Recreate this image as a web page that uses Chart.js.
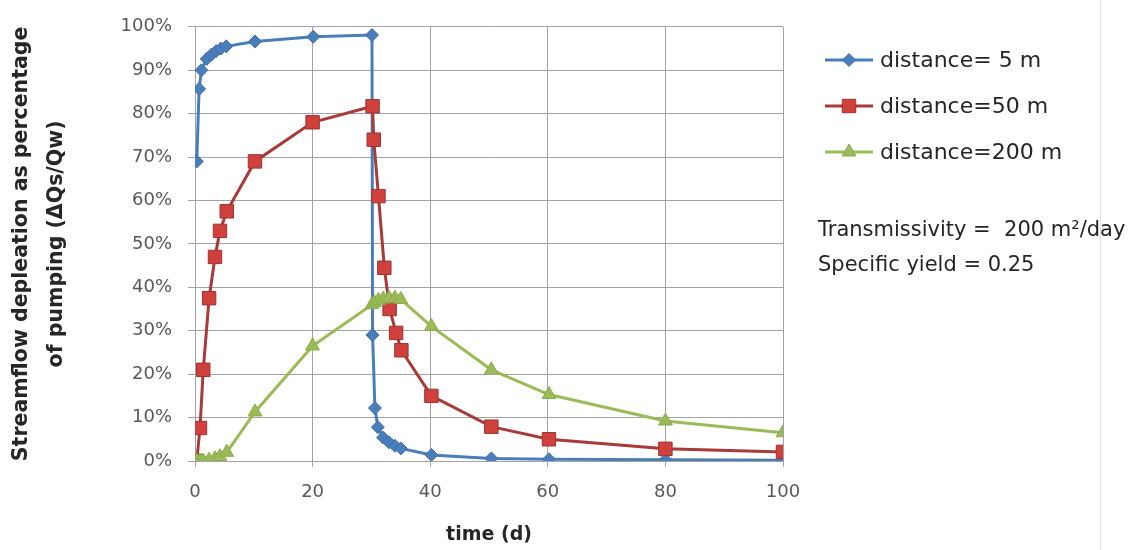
<!DOCTYPE html>
<html><head><meta charset="utf-8">
<script src="https://cdn.jsdelivr.net/npm/chart.js@4.4.1/dist/chart.umd.min.js"></script>
<style>html,body{margin:0;padding:0;background:#fff;} #wrap{width:1140px;height:550px;position:relative;}</style>
</head><body><div id="wrap"><canvas id="c"></canvas></div>
<script>
// ---- data ----
const seriesNames = ['distance= 5 m', 'distance=50 m', 'distance=200 m'];
const blueTimes  = [0.3, 0.7, 1.1, 2, 2.8, 3.6, 4.4, 5.3, 10.2, 20.1, 30.1, 30.2, 30.6, 31.1, 32, 33, 34, 35, 40.2, 50.4, 60.2, 80, 100];
const blueValues = [69, 85.7, 90, 92.6, 93.6, 94.4, 95, 95.5, 96.6, 97.7, 98.1, 29, 12.2, 7.8, 5.4, 4.3, 3.5, 2.9, 1.4, 0.6, 0.4, 0.3, 0.2];
const redTimes   = [0.3, 0.85, 1.4, 2.4, 3.4, 4.25, 5.4, 10.2, 20, 30.2, 30.4, 31.2, 32.2, 33.1, 34.2, 35.1, 40.2, 50.4, 60.2, 80, 100];
const redValues  = [0, 7.6, 21, 37.5, 47, 53, 57.5, 69, 78, 81.7, 74, 61, 44.5, 35, 29.5, 25.5, 15, 7.9, 5, 2.8, 2.1];
const greenTimes = [0.3, 0.85, 1.4, 2.4, 3.4, 4.25, 5.4, 10.2, 20, 30.1, 30.5, 31.2, 32, 33, 34, 35, 40.2, 50.4, 60.2, 80, 100];
const greenValues= [0, 0, 0, 0.2, 0.5, 1, 2, 11.3, 26.5, 36, 36.5, 37, 37.3, 37.5, 37.5, 37.2, 31, 21, 15.3, 9.2, 6.5];
const xTitle = 'time (d)';
const yTitle = ['Streamflow depleation as percentage', 'of pumping (\u0394Qs/Qw)'];
const noteLines = ['Transmissivity =  200 m\u00B2/day', 'Specific yield = 0.25'];

const FONT = "'DejaVu Sans', sans-serif";
const toPts = (xs, ys) => xs.map((x, i) => ({x: x, y: ys[i]}));

const legendPlugin = {
  id: 'sideLegend',
  afterDraw(chart) {
    const ctx = chart.ctx;
    ctx.save();
    // faint outer border line at right
    ctx.strokeStyle = '#e2e2e2'; ctx.lineWidth = 1;
    ctx.beginPath(); ctx.moveTo(1100.5, 0); ctx.lineTo(1100.5, 550); ctx.stroke();
    const rows = [60, 106, 152];
    chart.data.datasets.forEach((ds, i) => {
      const y = rows[i];
      ctx.strokeStyle = ds.borderColor; ctx.lineWidth = ds.borderWidth;
      ctx.beginPath(); ctx.moveTo(825, y); ctx.lineTo(873, y); ctx.stroke();
      ctx.fillStyle = ds.pointBackgroundColor; ctx.strokeStyle = ds.pointBorderColor;
      ctx.lineWidth = 1;
      Chart.helpers.drawPoint(ctx, {pointStyle: ds.pointStyle, radius: ds.pointRadius, rotation: 0, borderWidth: 1}, 849, y);
      ctx.fillStyle = '#262626';
      ctx.font = '22px ' + FONT; ctx.textAlign = 'left'; ctx.textBaseline = 'middle';
      ctx.fillText(seriesNames[i], 880, y + 1);
    });
    ctx.fillStyle = '#262626';
    ctx.font = '21px ' + FONT;
    ctx.fillText(noteLines[0], 818, 231);
    ctx.fillText(noteLines[1], 818, 266);
    ctx.restore();
  }
};

new Chart(document.getElementById('c'), {
  type: 'scatter',
  data: {
    datasets: [
      {label: seriesNames[0], data: toPts(blueTimes, blueValues), showLine: true, tension: 0,
       borderColor: '#4a7ebb', borderWidth: 3, pointStyle: 'rectRot', pointRadius: 6.5,
       pointBackgroundColor: '#4a7ebb', pointBorderColor: '#3f6fae', pointBorderWidth: 1, order: 2},
      {label: seriesNames[1], data: toPts(redTimes, redValues), showLine: true, tension: 0,
       borderColor: '#a83b39', borderWidth: 3, pointStyle: 'rect', pointRadius: 9.5,
       pointBackgroundColor: '#d0403c', pointBorderColor: '#9a3533', pointBorderWidth: 1, order: 1},
      {label: seriesNames[2], data: toPts(greenTimes, greenValues), showLine: true, tension: 0,
       borderColor: '#9bbb59', borderWidth: 3, pointStyle: 'triangle', pointRadius: 8,
       pointBackgroundColor: '#9bbb59', pointBorderColor: '#8cac4c', pointBorderWidth: 1, order: 0}
    ]
  },
  options: {
    responsive: true, maintainAspectRatio: false, animation: false,
    layout: {padding: {left: 0, top: 16, right: 357, bottom: 0}},
    plugins: {legend: {display: false}, tooltip: {enabled: false}},
    scales: {
      x: {
        type: 'linear', min: 0, max: 100,
        ticks: {stepSize: 20, color: '#595959', font: {family: FONT, size: 18}, padding: 15},
        grid: {color: '#a3a3a3', lineWidth: 1, tickLength: 6},
        border: {color: '#a3a3a3'},
        title: {display: true, text: xTitle, color: '#262626', font: {family: FONT, size: 19, weight: 'bold', lineHeight: 1.16}, padding: {top: 4, bottom: 4}},
        afterFit(s) { s.height = 89; }
      },
      y: {
        type: 'linear', min: 0, max: 100,
        ticks: {stepSize: 10, color: '#595959', font: {family: FONT, size: 18}, padding: 16, callback: v => v + '%'},
        grid: {color: '#a3a3a3', lineWidth: 1, tickLength: 7},
        border: {color: '#a3a3a3'},
        title: {display: true, text: yTitle, color: '#262626', font: {family: FONT, size: 20.5, weight: 'bold', lineHeight: 1.7}, padding: {top: 4, bottom: 4}},
        afterFit(s) { s.width = 195; }
      }
    }
  },
  plugins: [legendPlugin]
});
</script></body></html>
